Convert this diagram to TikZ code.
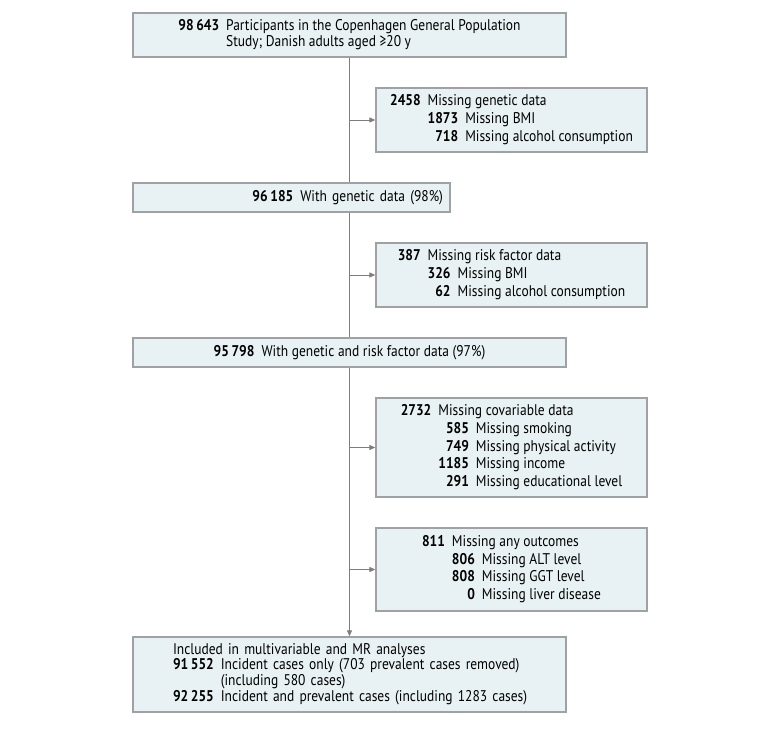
\documentclass[tikz,border=0pt]{standalone}
\usepackage{fontspec}
\setmainfont{PT Sans}[FakeStretch=0.87]
\usetikzlibrary{arrows.meta}

\definecolor{boxfill}{RGB}{232,242,244}
\definecolor{boxline}{RGB}{158,162,164}
\definecolor{linegrey}{RGB}{125,125,125}

\tikzset{
  flowbox/.style={draw=boxline, line width=1.3pt, fill=boxfill, inner sep=0pt,
    font=\fontsize{15.5}{15.4}\selectfont},
  mainbox/.style={flowbox, minimum width=433pt, minimum height=#1},
  sidebox/.style={flowbox, minimum width=271pt, minimum height=#1},
  flowline/.style={draw=linegrey, line width=0.9pt},
  flowarrow/.style={flowline, -{Triangle[length=6pt,width=5pt]}}
}

\newcommand{\nrow}[2]{\textbf{#1} & #2}
\newenvironment{sidelist}{\renewcommand\arraystretch{1.14}\begin{tabular}[t]{@{}r@{\hspace{7pt}}l@{}}}{\end{tabular}}

\begin{document}
\begin{tikzpicture}[x=1pt,y=1pt,yscale=-1,xscale=1]
\useasboundingbox (0,0) rectangle (780,735);

% Main boxes
\node[mainbox=44pt] (start) at (349.5,35) {\begin{tabular}{@{}r@{\hspace{7pt}}l@{}}
\nrow{98\,643}{Participants in the Copenhagen General Population}\\
 & Study; Danish adults aged ≥20 y
\end{tabular}};
\node[flowbox, minimum height=29pt, text width=303pt, inner xsep=7pt, align=right] (genetic) at (291.5,197.5)
  {\textbf{96\,185}\hspace{7pt}With genetic data (98\%)};
\node[mainbox=29pt] (riskdata) at (349.5,352.5)
  {\textbf{95\,798}\hspace{7pt}With genetic and risk factor data (97\%)};
\node[flowbox, minimum height=75pt, text width=433pt, align=left] (included) at (349.5,674.5)
  {\hspace*{40pt}\begin{tabular}{@{}r@{\hspace{7pt}}l@{}}
\multicolumn{2}{@{}l@{}}{Included in multivariable and MR analyses}\\
\nrow{91\,552}{Incident cases only (703 prevalent cases removed)}\\
 & (including 580 cases)\\
\nrow{92\,255}{Incident and prevalent cases (including 1283 cases)}
\end{tabular}};

% Exclusion boxes
\node[sidebox=64pt] (nogenetic) at (511.5,120) {\begin{sidelist}
\nrow{2458}{Missing genetic data}\\
 & \begin{sidelist}
 \nrow{1873}{Missing BMI}\\
 \nrow{718}{Missing alcohol consumption}
 \end{sidelist}
\end{sidelist}};
\node[sidebox=64pt] (norisk) at (511.5,275) {\begin{sidelist}
\nrow{387}{Missing risk factor data}\\
 & \begin{sidelist}
 \nrow{326}{Missing BMI}\\
 \nrow{62}{Missing alcohol consumption}
 \end{sidelist}
\end{sidelist}};
\node[sidebox=99pt] (nocovar) at (511.5,447.5) {\begin{sidelist}
\nrow{2732}{Missing covariable data}\\
 & \begin{sidelist}
 \nrow{585}{Missing smoking}\\
 \nrow{749}{Missing physical activity}\\
 \nrow{1185}{Missing income}\\
 \nrow{291}{Missing educational level}
 \end{sidelist}
\end{sidelist}};
\node[sidebox=83pt] (nooutcome) at (511.5,569.5) {\begin{sidelist}
\nrow{811}{Missing any outcomes}\\
 & \begin{sidelist}
 \nrow{806}{Missing ALT level}\\
 \nrow{808}{Missing GGT level}\\
 \nrow{0}{Missing liver disease}
 \end{sidelist}
\end{sidelist}};

% Main line
\draw[flowline] (start.south) -- (start.south |- genetic.north);
\draw[flowline] (start.south |- genetic.south) -- (riskdata.north);
\draw[flowarrow] (riskdata.south) -- (included.north);

% Side arrows
\foreach \side in {nogenetic,norisk,nocovar,nooutcome}
  \draw[flowarrow] (\side.west -| start.south) -- (\side.west);

\end{tikzpicture}
\end{document}
